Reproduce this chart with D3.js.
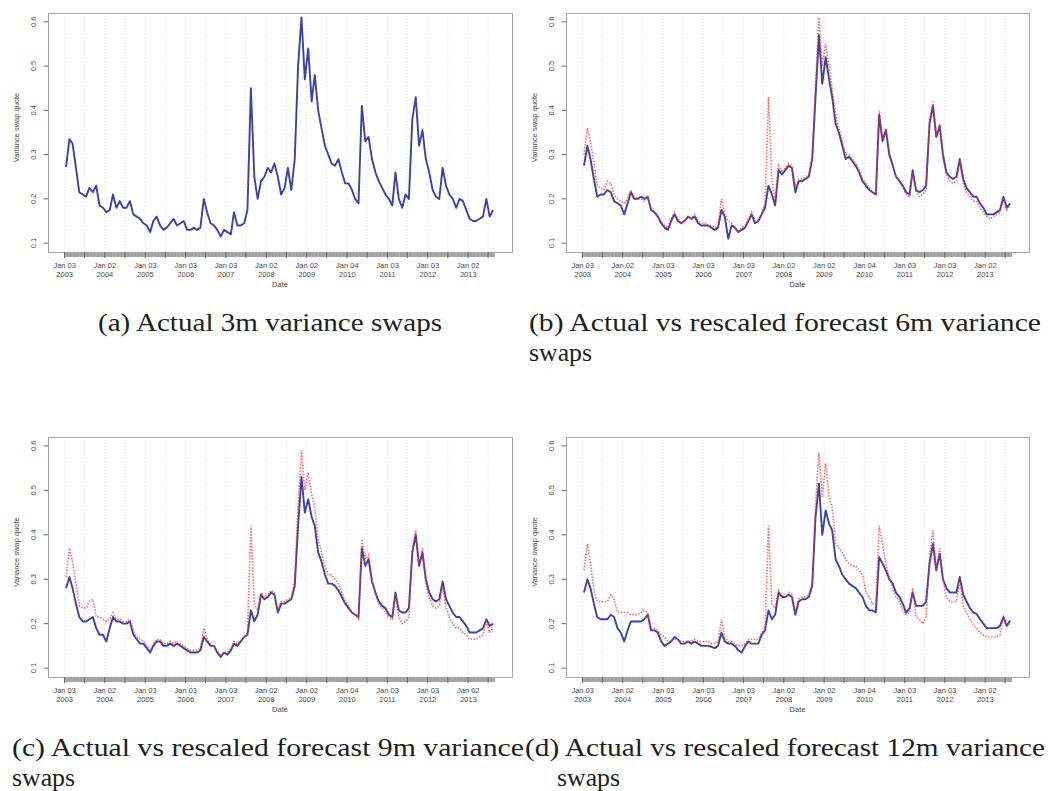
<!DOCTYPE html>
<html>
<head>
<meta charset="utf-8">
<script src="https://cdn.jsdelivr.net/npm/d3@7/dist/d3.min.js"></script>
<style>
body { margin: 0; background: #fff; }
svg { display: block; font-family: "Liberation Sans", Arial, sans-serif; }
.frame { fill: none; stroke: #a3a3a3; shape-rendering: crispEdges; }
.grid { stroke: #dedede; stroke-dasharray: 1,2; }
.lab { font-size: 7.5px; fill: #4a4a4a; }
.caption { font-family: "Liberation Serif", "Times New Roman", serif; font-size: 25px; fill: #1e1e1e; }
</style>
</head>
<body>
<script>
// monthly values, Jan 2003 .. Aug 2013
var actual3m = [
  0.272, 0.335, 0.325, 0.27, 0.215, 0.21, 0.205, 0.225, 0.215, 0.23, 0.185, 0.18,
  0.17, 0.175, 0.21, 0.18, 0.195, 0.18, 0.18, 0.195, 0.165, 0.16, 0.155, 0.145,
  0.14, 0.125, 0.15, 0.16, 0.14, 0.13, 0.135, 0.145, 0.155, 0.14, 0.145, 0.15,
  0.13, 0.13, 0.135, 0.13, 0.135, 0.2, 0.17, 0.145, 0.14, 0.13, 0.115, 0.13,
  0.125, 0.12, 0.17, 0.14, 0.14, 0.145, 0.175, 0.45, 0.25, 0.2, 0.24, 0.25,
  0.27, 0.26, 0.28, 0.25, 0.21, 0.225, 0.27, 0.22, 0.29, 0.50, 0.61, 0.47,
  0.54, 0.42, 0.48, 0.40, 0.36, 0.32, 0.30, 0.28, 0.275, 0.29, 0.26, 0.235,
  0.235, 0.22, 0.20, 0.19, 0.41, 0.33, 0.34, 0.29, 0.26, 0.24, 0.225, 0.21,
  0.20, 0.185, 0.26, 0.20, 0.18, 0.21, 0.20, 0.38, 0.43, 0.32, 0.355, 0.29,
  0.26, 0.22, 0.205, 0.20, 0.27, 0.23, 0.21, 0.20, 0.18, 0.20, 0.195, 0.175,
  0.155, 0.15, 0.15, 0.155, 0.16, 0.20, 0.16, 0.175
];
var actual6m = [
  0.275, 0.32, 0.29, 0.245, 0.205, 0.21, 0.21, 0.22, 0.215, 0.195, 0.19, 0.185,
  0.165, 0.19, 0.215, 0.2, 0.2, 0.205, 0.2, 0.205, 0.175, 0.17, 0.16, 0.145,
  0.135, 0.13, 0.15, 0.165, 0.15, 0.145, 0.15, 0.16, 0.155, 0.16, 0.145, 0.14,
  0.14, 0.14, 0.135, 0.13, 0.135, 0.175, 0.16, 0.11, 0.14, 0.135, 0.125, 0.13,
  0.135, 0.15, 0.165, 0.145, 0.15, 0.165, 0.18, 0.23, 0.21, 0.185, 0.265, 0.255,
  0.265, 0.275, 0.27, 0.215, 0.24, 0.24, 0.245, 0.25, 0.29, 0.43, 0.57, 0.46,
  0.52, 0.47, 0.43, 0.37, 0.35, 0.32, 0.29, 0.295, 0.285, 0.275, 0.26, 0.24,
  0.23, 0.22, 0.215, 0.21, 0.39, 0.33, 0.355, 0.30, 0.275, 0.25, 0.24, 0.23,
  0.215, 0.21, 0.265, 0.22, 0.215, 0.22, 0.23, 0.37, 0.41, 0.34, 0.365, 0.30,
  0.26, 0.25, 0.245, 0.25, 0.29, 0.245, 0.225, 0.215, 0.205, 0.205, 0.19, 0.18,
  0.165, 0.165, 0.165, 0.17, 0.175, 0.205, 0.18, 0.19
];
var forecast6m = [
  0.30, 0.36, 0.33, 0.28, 0.23, 0.225, 0.22, 0.24, 0.235, 0.21, 0.2, 0.195,
  0.19, 0.20, 0.22, 0.205, 0.20, 0.2, 0.195, 0.205, 0.18, 0.17, 0.16, 0.15,
  0.14, 0.135, 0.155, 0.17, 0.155, 0.145, 0.15, 0.16, 0.155, 0.165, 0.15, 0.145,
  0.145, 0.14, 0.14, 0.135, 0.14, 0.2, 0.165, 0.15, 0.145, 0.135, 0.125, 0.135,
  0.14, 0.155, 0.17, 0.15, 0.15, 0.17, 0.19, 0.43, 0.24, 0.2, 0.275, 0.26,
  0.27, 0.28, 0.275, 0.225, 0.245, 0.245, 0.25, 0.255, 0.30, 0.46, 0.61, 0.50,
  0.55, 0.50, 0.45, 0.39, 0.36, 0.33, 0.30, 0.30, 0.29, 0.28, 0.265, 0.245,
  0.235, 0.225, 0.215, 0.21, 0.40, 0.335, 0.36, 0.305, 0.28, 0.25, 0.24, 0.225,
  0.21, 0.205, 0.26, 0.215, 0.205, 0.21, 0.22, 0.38, 0.42, 0.34, 0.37, 0.29,
  0.255, 0.24, 0.235, 0.24, 0.285, 0.235, 0.215, 0.205, 0.195, 0.195, 0.18, 0.17,
  0.16, 0.155, 0.16, 0.165, 0.17, 0.2, 0.175, 0.185
];
var actual9m = [
  0.28, 0.305, 0.28, 0.245, 0.215, 0.205, 0.205, 0.21, 0.215, 0.19, 0.175, 0.175,
  0.16, 0.19, 0.215, 0.205, 0.205, 0.2, 0.2, 0.205, 0.175, 0.165, 0.155, 0.155,
  0.145, 0.135, 0.15, 0.16, 0.16, 0.15, 0.15, 0.155, 0.15, 0.155, 0.15, 0.145,
  0.14, 0.135, 0.135, 0.135, 0.14, 0.17, 0.16, 0.15, 0.15, 0.135, 0.125, 0.135,
  0.13, 0.14, 0.155, 0.15, 0.16, 0.17, 0.175, 0.23, 0.205, 0.22, 0.265, 0.255,
  0.26, 0.27, 0.265, 0.225, 0.245, 0.245, 0.25, 0.255, 0.285, 0.42, 0.53, 0.45,
  0.48, 0.44, 0.42, 0.36, 0.34, 0.31, 0.29, 0.29, 0.285, 0.275, 0.26, 0.245,
  0.235, 0.225, 0.22, 0.215, 0.37, 0.33, 0.345, 0.295, 0.27, 0.25, 0.24, 0.235,
  0.22, 0.215, 0.27, 0.23, 0.225, 0.225, 0.235, 0.36, 0.40, 0.33, 0.36, 0.30,
  0.27, 0.255, 0.25, 0.255, 0.295, 0.255, 0.24, 0.225, 0.215, 0.215, 0.205, 0.195,
  0.18, 0.18, 0.18, 0.185, 0.19, 0.21, 0.195, 0.2
];
var forecast9m = [
  0.305, 0.37, 0.34, 0.29, 0.24, 0.235, 0.235, 0.25, 0.255, 0.215, 0.215, 0.21,
  0.205, 0.21, 0.225, 0.21, 0.21, 0.205, 0.205, 0.21, 0.185, 0.17, 0.165, 0.16,
  0.15, 0.14, 0.155, 0.165, 0.165, 0.155, 0.155, 0.16, 0.155, 0.16, 0.155, 0.15,
  0.145, 0.14, 0.14, 0.14, 0.145, 0.19, 0.165, 0.155, 0.15, 0.14, 0.13, 0.135,
  0.135, 0.145, 0.16, 0.155, 0.16, 0.17, 0.18, 0.42, 0.245, 0.23, 0.27, 0.26,
  0.265, 0.275, 0.27, 0.23, 0.25, 0.25, 0.255, 0.26, 0.30, 0.47, 0.59, 0.50,
  0.54, 0.49, 0.46, 0.39, 0.36, 0.33, 0.31, 0.31, 0.30, 0.29, 0.27, 0.25,
  0.24, 0.225, 0.22, 0.21, 0.39, 0.345, 0.355, 0.30, 0.27, 0.245, 0.235, 0.225,
  0.215, 0.21, 0.265, 0.215, 0.2, 0.205, 0.215, 0.37, 0.41, 0.33, 0.37, 0.29,
  0.26, 0.24, 0.235, 0.24, 0.285, 0.235, 0.215, 0.2, 0.19, 0.19, 0.18, 0.175,
  0.165, 0.165, 0.165, 0.17, 0.175, 0.205, 0.18, 0.19
];
var actual12m = [
  0.27, 0.30, 0.28, 0.245, 0.215, 0.21, 0.21, 0.21, 0.22, 0.215, 0.19, 0.18,
  0.16, 0.185, 0.205, 0.205, 0.205, 0.205, 0.21, 0.22, 0.185, 0.185, 0.18, 0.16,
  0.15, 0.155, 0.16, 0.17, 0.165, 0.155, 0.155, 0.16, 0.155, 0.16, 0.155, 0.15,
  0.15, 0.15, 0.148, 0.145, 0.15, 0.18, 0.16, 0.155, 0.155, 0.15, 0.14, 0.135,
  0.15, 0.16, 0.155, 0.155, 0.155, 0.175, 0.185, 0.23, 0.21, 0.22, 0.27, 0.26,
  0.26, 0.265, 0.26, 0.22, 0.25, 0.255, 0.255, 0.26, 0.285, 0.44, 0.515, 0.40,
  0.455, 0.425, 0.41, 0.345, 0.33, 0.31, 0.30, 0.29, 0.285, 0.28, 0.27, 0.26,
  0.24, 0.23, 0.23, 0.225, 0.35, 0.335, 0.32, 0.30, 0.29, 0.27, 0.26, 0.245,
  0.225, 0.235, 0.27, 0.24, 0.24, 0.24, 0.25, 0.335, 0.38, 0.32, 0.357, 0.30,
  0.28, 0.27, 0.27, 0.27, 0.305, 0.265, 0.25, 0.235, 0.225, 0.222, 0.21, 0.2,
  0.19, 0.19, 0.19, 0.19, 0.195, 0.215, 0.195, 0.207
];
var forecast12m = [
  0.32, 0.38, 0.335, 0.275, 0.25, 0.25, 0.25, 0.25, 0.265, 0.255, 0.225, 0.225,
  0.225, 0.225, 0.22, 0.22, 0.22, 0.225, 0.23, 0.225, 0.19, 0.19, 0.185, 0.175,
  0.17, 0.16, 0.16, 0.165, 0.165, 0.16, 0.16, 0.16, 0.16, 0.165, 0.16, 0.16,
  0.16, 0.16, 0.155, 0.155, 0.16, 0.21, 0.17, 0.16, 0.16, 0.155, 0.15, 0.15,
  0.155, 0.165, 0.165, 0.165, 0.165, 0.18, 0.185, 0.42, 0.245, 0.235, 0.275, 0.265,
  0.26, 0.27, 0.265, 0.225, 0.255, 0.26, 0.26, 0.265, 0.29, 0.47, 0.585, 0.485,
  0.56, 0.485, 0.46, 0.38, 0.37, 0.36, 0.345, 0.335, 0.33, 0.33, 0.32, 0.31,
  0.27, 0.26, 0.245, 0.245, 0.42, 0.38, 0.335, 0.305, 0.28, 0.26, 0.25, 0.23,
  0.22, 0.225, 0.28, 0.215, 0.21, 0.2, 0.215, 0.35, 0.41, 0.32, 0.37, 0.30,
  0.26, 0.25, 0.25, 0.25, 0.30, 0.24, 0.225, 0.21, 0.195, 0.19, 0.18, 0.175,
  0.17, 0.17, 0.17, 0.17, 0.175, 0.215, 0.195, 0.2
];

var yTicks = [0.1, 0.2, 0.3, 0.4, 0.5, 0.6];
var tickDays = ["2003-01-03", "2004-01-02", "2005-01-03", "2006-01-03", "2007-01-03", "2008-01-02",
                "2009-01-02", "2010-01-04", "2011-01-03", "2012-01-03", "2013-01-02"];
var tickTop = ["Jan 03", "Jan 02", "Jan 03", "Jan 03", "Jan 03", "Jan 02",
               "Jan 02", "Jan 04", "Jan 03", "Jan 03", "Jan 02"];
var tickBottom = ["2003", "2004", "2005", "2006", "2007", "2008", "2009", "2010", "2011", "2012", "2013"];

var parse = d3.timeParse("%Y-%m-%d");
var dates = actual3m.map(function (d, i) { return new Date(2003, i, 15); });
function rows(values) {
  return values.map(function (v, i) { return {date: dates[i], v: v}; });
}

var panels = [
  {left: 48, top: 13, right: 512, bottom: 252, actual: actual3m, forecast: null},
  {left: 566, top: 13, right: 1029, bottom: 252, actual: actual6m, forecast: forecast6m},
  {left: 48, top: 437, right: 512, bottom: 677, actual: actual9m, forecast: forecast9m},
  {left: 566, top: 437, right: 1029, bottom: 677, actual: actual12m, forecast: forecast12m}
];

var captions = [
  {x: 98, y: 331, w: 344, text: "(a) Actual 3m variance swaps"},
  {x: 529, y: 331, w: 512, text: "(b) Actual vs rescaled forecast 6m variance"},
  {x: 529, y: 361, w: 63, text: "swaps"},
  {x: 12, y: 756, w: 512, text: "(c) Actual vs rescaled forecast 9m variance"},
  {x: 12, y: 786, w: 63, text: "swaps"},
  {x: 525, y: 756, w: 520, text: "(d) Actual vs rescaled forecast 12m variance"},
  {x: 557, y: 786, w: 63, text: "swaps"}
];

var svg = d3.select("body").append("svg")
  .attr("width", 1048)
  .attr("height", 791);

panels.forEach(function (p) {
  var g = svg.append("g");
  var x = d3.scaleTime()
    .domain([new Date(2002, 7, 5), new Date(2014, 1, 2)])
    .range([p.left, p.right]);
  var y = d3.scaleLinear()
    .domain([0.08, 0.62])
    .range([p.bottom, p.top]);

  // half-year grid
  var half = d3.timeMonth.every(6).range(new Date(2003, 0, 1), new Date(2013, 7, 2));
  g.selectAll("line.grid")
    .data(half)
    .enter().append("line")
    .attr("class", "grid")
    .attr("x1", function (d) { return x(d); })
    .attr("x2", function (d) { return x(d); })
    .attr("y1", p.top)
    .attr("y2", p.bottom);

  g.append("rect")
    .attr("class", "frame")
    .attr("x", p.left + 0.5)
    .attr("y", p.top + 0.5)
    .attr("width", p.right - p.left)
    .attr("height", p.bottom - p.top);

  // dense date axis band under the plot
  var bandEnd = new Date(2013, 8, 1);
  g.append("rect")
    .attr("x", x(new Date(2003, 0, 3)))
    .attr("y", p.bottom)
    .attr("width", x(bandEnd) - x(new Date(2003, 0, 3)))
    .attr("height", 5)
    .attr("fill", "#a9a9a9");
  g.selectAll("line.mt")
    .data(d3.timeMonth.range(new Date(2003, 0, 1), bandEnd))
    .enter().append("line")
    .attr("x1", function (d) { return x(d); })
    .attr("x2", function (d) { return x(d); })
    .attr("y1", p.bottom)
    .attr("y2", p.bottom + 5)
    .attr("stroke", "#949494")
    .attr("stroke-width", 0.6);
  g.selectAll("line.ht")
    .data(half)
    .enter().append("line")
    .attr("x1", function (d) { return x(d); })
    .attr("x2", function (d) { return x(d); })
    .attr("y1", p.bottom)
    .attr("y2", p.bottom + 6)
    .attr("stroke", "#666")
    .attr("stroke-width", 1);

  // y axis
  g.selectAll("line.yt")
    .data(yTicks)
    .enter().append("line")
    .attr("x1", p.left - 4.5)
    .attr("x2", p.left)
    .attr("y1", function (d) { return y(d); })
    .attr("y2", function (d) { return y(d); })
    .attr("stroke", "#666");
  g.selectAll("text.yl")
    .data(yTicks)
    .enter().append("text")
    .attr("class", "lab")
    .attr("text-anchor", "middle")
    .attr("transform", function (d) {
      return "translate(" + (p.left - 12) + "," + y(d) + ") rotate(-90)";
    })
    .text(function (d) { return d3.format(".1f")(d); });
  g.append("text")
    .attr("class", "lab")
    .attr("text-anchor", "middle")
    .attr("transform", "translate(" + (p.left - 29.5) + "," + ((p.top + p.bottom) / 2 - 5) + ") rotate(-90)")
    .text("Variance swap quote");

  // x labels
  var xl = g.selectAll("text.xl")
    .data(tickDays)
    .enter().append("text")
    .attr("class", "lab")
    .attr("text-anchor", "middle")
    .attr("x", function (d) { return x(parse(d)); })
    .attr("y", p.bottom + 15.5);
  xl.append("tspan").text(function (d, i) { return tickTop[i]; });
  xl.append("tspan")
    .attr("x", function (d) { return x(parse(d)); })
    .attr("dy", 9.3)
    .text(function (d, i) { return tickBottom[i]; });
  g.append("text")
    .attr("class", "lab")
    .attr("text-anchor", "middle")
    .attr("x", (p.left + p.right) / 2)
    .attr("y", p.bottom + 34.5)
    .text("Date");

  var line = d3.line()
    .x(function (d) { return x(d.date); })
    .y(function (d) { return y(d.v); });

  g.append("path")
    .datum(rows(p.actual))
    .attr("d", line)
    .attr("fill", "none")
    .attr("stroke", "#3d43a0")
    .attr("stroke-width", 1.9)
    .attr("stroke-linejoin", "round");

  if (p.forecast) {
    g.append("path")
      .datum(rows(p.forecast))
      .attr("d", line)
      .attr("fill", "none")
      .attr("stroke", "#ff2b2b")
      .attr("stroke-opacity", 0.7)
      .attr("stroke-width", 1.6)
      .attr("stroke-dasharray", "1.5,1.5");
  }
});

svg.selectAll("text.caption")
  .data(captions)
  .enter().append("text")
  .attr("class", "caption")
  .attr("x", function (d) { return d.x; })
  .attr("y", function (d) { return d.y; })
  .attr("textLength", function (d) { return d.w; })
  .attr("lengthAdjust", "spacingAndGlyphs")
  .text(function (d) { return d.text; });
</script>
</body>
</html>
